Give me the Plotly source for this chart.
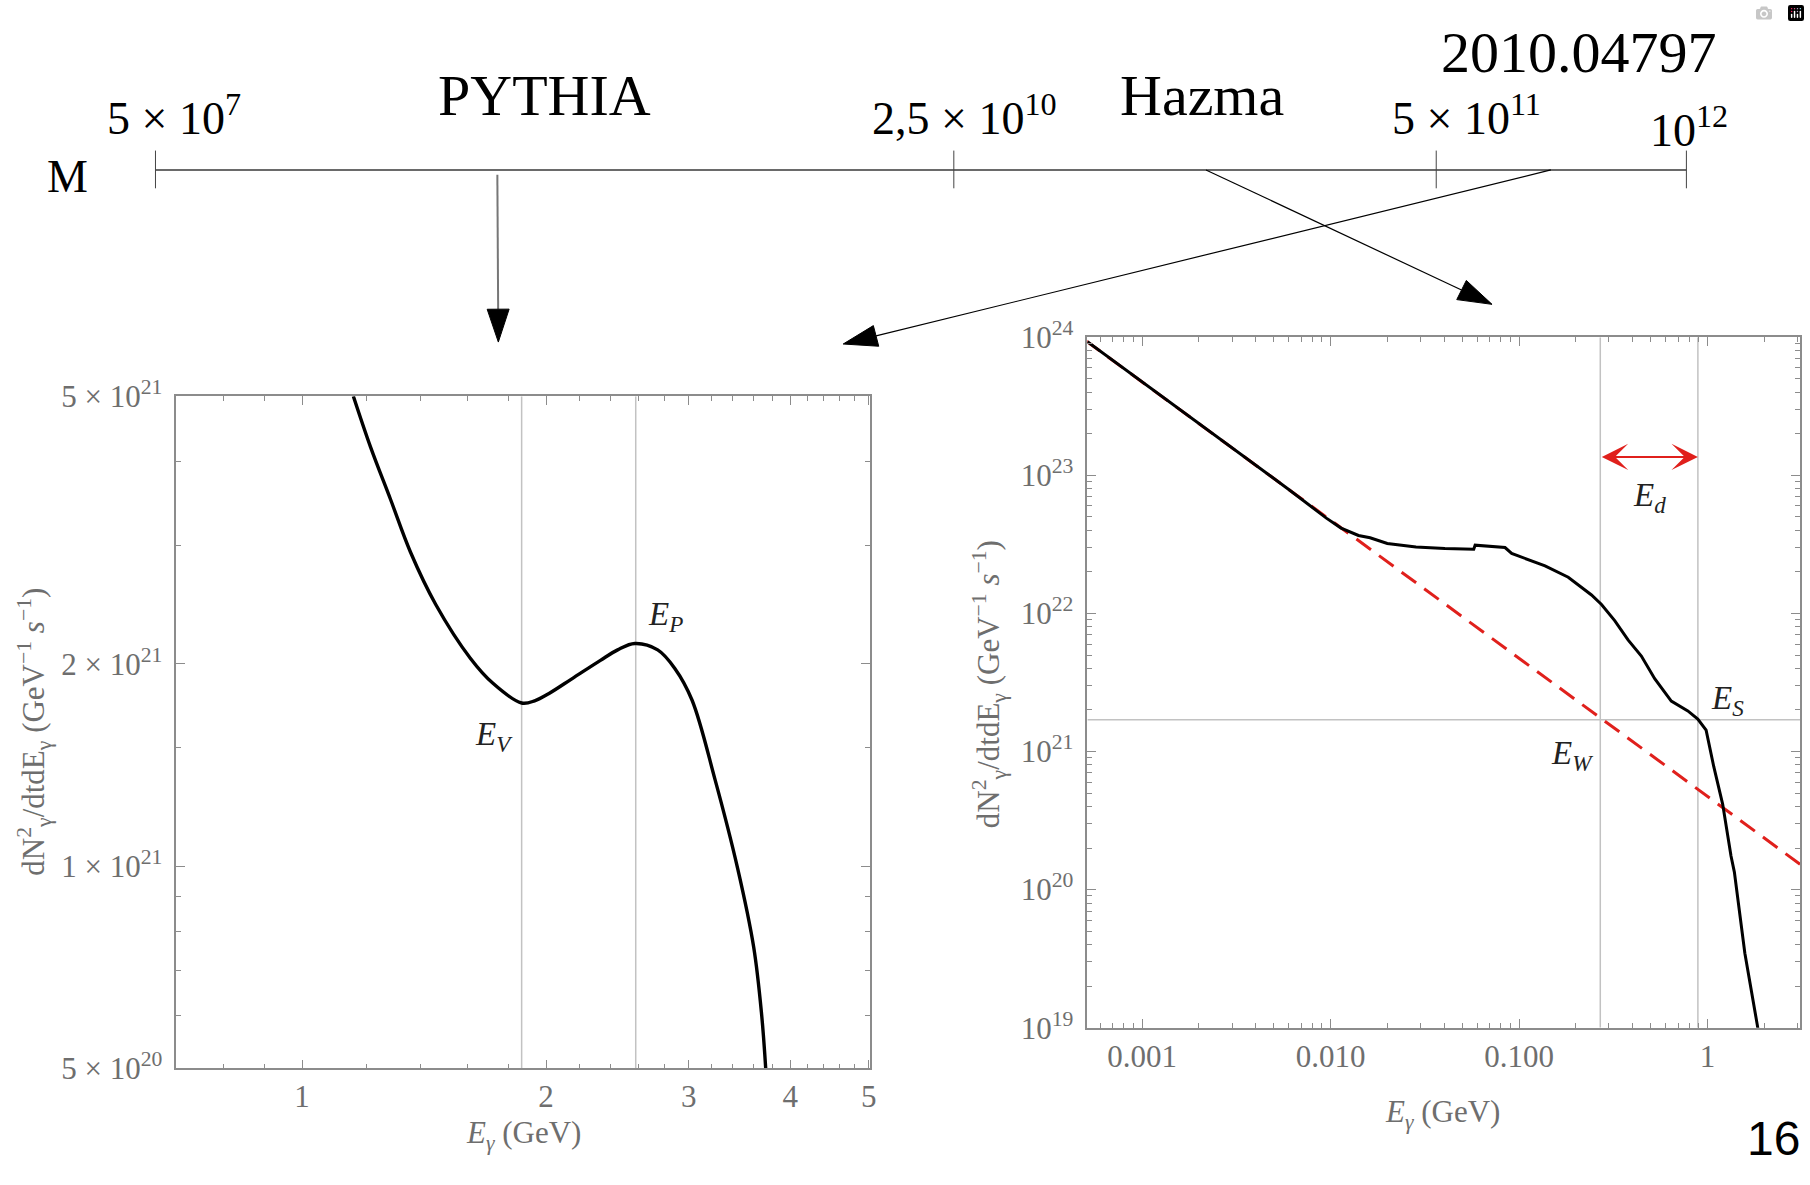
import numpy as np
import plotly.graph_objects as go

W, H = 1810, 1185
SERIF = "Liberation Serif"
FRAME = "#8c8c8c"
TICKC = "#6e6e6e"
GUIDE = "#c2c2c2"
RED = "#e0201c"

# ---------------- data ----------------
mass_labels = ["5 × 10<sup>7</sup>", "2,5 × 10<sup>10</sup>", "5 × 10<sup>11</sup>", "10<sup>12</sup>"]
generator_names = ["PYTHIA", "Hazma"]
paper_ref = "2010.04797"

# left panel (PYTHIA)
pythia_E = [1.157, 1.215, 1.286, 1.361, 1.462, 1.612, 1.720, 1.866, 1.936, 2.017, 2.152, 2.334,
            2.451, 2.573, 2.746, 2.883, 3.027, 3.23, 3.446, 3.607, 3.690, 3.732]
pythia_flux = [5.0e21, 4.20e21, 3.51e21, 2.93e21, 2.45e21, 2.04e21, 1.87e21, 1.748e21, 1.761e21,
               1.806e21, 1.899e21, 2.023e21, 2.097e21, 2.143e21, 2.097e21, 1.968e21, 1.766e21,
               1.348e21, 9.92e20, 7.57e20, 5.99e20, 5.0e20]
pythia_E_V = 1.866
pythia_E_P = 2.58

# right panel (Hazma)
hazma_E = [5.12e-4, 1.0e-3, 3.0e-3, 6.0e-3, 9.5e-3, 0.01137, 0.01406, 0.0162, 0.0200, 0.0284, 0.0404,
           0.0575, 0.0585, 0.0843, 0.0914, 0.1375, 0.1825, 0.2425, 0.274, 0.322, 0.379, 0.446,
           0.525, 0.643, 0.787, 0.889, 0.984, 1.08, 1.205, 1.334, 1.39, 1.58, 1.85, 1.9]
hazma_flux = [9.27e23, 4.74e23, 1.58e23, 7.9e22, 4.9e22, 4.15e22, 3.67e22, 3.53e22, 3.21e22, 3.03e22, 2.95e22,
              2.92e22, 3.12e22, 3.0e22, 2.72e22, 2.21e22, 1.83e22, 1.36e22, 1.16e22, 8.87e21, 6.43e21,
              4.91e21, 3.37e21, 2.32e21, 1.97e21, 1.72e21, 1.43e21, 7.8e20, 4.15e20, 1.75e20, 1.34e20,
              3.46e19, 1.0e19, 8.0e18]
hazma_powerlaw_E = [5.0e-4, 3.2]
hazma_powerlaw_flux = [9.48e23, 1.48e20]
hazma_E_W = 0.27
hazma_E_S = 0.89
hazma_flux_S = 1.7e21
hazma_Ed_flux = 1.36e23

# ticks
left_xtickvals = [1, 2, 3, 4, 5]
left_xticktext = ["1", "2", "3", "4", "5"]
left_xminor = [0.8, 0.9, 1.2, 1.4, 1.6, 1.8, 2.2, 2.4, 2.6, 2.8, 3.2, 3.4, 3.6, 3.8, 4.2, 4.4, 4.6, 4.8]
left_ytickvals = [5e20, 1e21, 2e21, 5e21]
left_yticktext = ["5 × 10<sup>20</sup>", "1 × 10<sup>21</sup>", "2 × 10<sup>21</sup>", "5 × 10<sup>21</sup>"]
left_yminor = [6e20, 7e20, 8e20, 9e20, 1.5e21, 3e21, 4e21]
right_xtickvals = [0.001, 0.01, 0.1, 1]
right_xticktext = ["0.001", "0.010", "0.100", "1"]
right_ytickvals = [1e19, 1e20, 1e21, 1e22, 1e23, 1e24]
right_yticktext = ["10<sup>19</sup>", "10<sup>20</sup>", "10<sup>21</sup>", "10<sup>22</sup>",
                   "10<sup>23</sup>", "10<sup>24</sup>"]
right_xminor = [m * 10.0 ** k for k in range(-4, 1) for m in range(2, 10)]
right_yminor = [m * 10.0 ** k for k in range(19, 24) for m in range(2, 10)]

left_xrange = [0.70, 5.02]
left_yrange = [5e20, 5e21]
right_xrange = [5.12e-4, 3.1]
right_yrange = [1e19, 1e24]


# ---------------- helpers (layout decoration in pixels -> paper) ----------------
def px(x):
    return x / W


def py(y):
    return 1 - y / H


fig = go.Figure()

# left panel traces
fig.add_trace(go.Scatter(x=[pythia_E_V, pythia_E_V], y=left_yrange, mode="lines",
                         line=dict(color=GUIDE, width=1.5), xaxis="x", yaxis="y"))
fig.add_trace(go.Scatter(x=[pythia_E_P, pythia_E_P], y=left_yrange, mode="lines",
                         line=dict(color=GUIDE, width=1.5), xaxis="x", yaxis="y"))
fig.add_trace(go.Scatter(x=pythia_E, y=pythia_flux, mode="lines",
                         line=dict(color="black", width=3.4, shape="spline", smoothing=1.0),
                         xaxis="x", yaxis="y"))

# right panel traces
fig.add_trace(go.Scatter(x=[hazma_E_W, hazma_E_W], y=right_yrange, mode="lines",
                         line=dict(color=GUIDE, width=1.5), xaxis="x2", yaxis="y2"))
fig.add_trace(go.Scatter(x=[hazma_E_S, hazma_E_S], y=right_yrange, mode="lines",
                         line=dict(color=GUIDE, width=1.5), xaxis="x2", yaxis="y2"))
fig.add_trace(go.Scatter(x=right_xrange, y=[hazma_flux_S, hazma_flux_S], mode="lines",
                         line=dict(color=GUIDE, width=1.5), xaxis="x2", yaxis="y2"))
fig.add_trace(go.Scatter(x=hazma_powerlaw_E, y=hazma_powerlaw_flux, mode="lines",
                         line=dict(color=RED, width=3, dash="18px,10px"), xaxis="x2", yaxis="y2"))
fig.add_trace(go.Scatter(x=hazma_E, y=hazma_flux, mode="lines",
                         line=dict(color="black", width=3), xaxis="x2", yaxis="y2"))


def axis(domain, rng, tickvals, ticktext, minor_vals, anchor, standoff, size=31):
    return dict(
        type="log", domain=domain, range=[np.log10(rng[0]), np.log10(rng[1])], anchor=anchor,
        showgrid=False, zeroline=False, showline=True, linecolor=FRAME, linewidth=1.5,
        mirror="allticks", ticks="inside", ticklen=9, tickwidth=1.2, tickcolor=FRAME,
        tickmode="array", tickvals=tickvals, ticktext=ticktext,
        tickfont=dict(family=SERIF, size=size, color=TICKC), ticklabelstandoff=standoff,
        minor=dict(tickmode="array", tickvals=minor_vals, ticks="inside", ticklen=5,
                   tickwidth=1, tickcolor=FRAME, showgrid=False),
        fixedrange=True,
    )


L_x = [px(177), px(873)]
L_y = [py(1083), py(388)]
R_x = [px(1091), px(1806)]
R_y = [py(1041), py(327)]

fig.update_layout(
    width=W, height=H, margin=dict(l=0, r=0, t=0, b=0), autosize=False,
    paper_bgcolor="white", plot_bgcolor="white", showlegend=False,
    xaxis=axis(L_x, left_xrange, left_xtickvals, left_xticktext, left_xminor, "y", 0),
    yaxis=axis(L_y, left_yrange, left_ytickvals, left_yticktext, left_yminor, "x", 6),
    xaxis2=axis(R_x, right_xrange, right_xtickvals, right_xticktext, right_xminor, "y2", 0),
    yaxis2=axis(R_y, right_yrange, right_ytickvals, right_yticktext, right_yminor, "x2", 6),
)

annotations = []
shapes = []

# ---------- mass scale at the top ----------
scale_y = 154
scale_ticks_px = [156, 957, 1441, 1692]
shapes.append(dict(type="line", xref="paper", yref="paper", x0=px(scale_ticks_px[0]), x1=px(scale_ticks_px[-1]),
                   y0=py(scale_y), y1=py(scale_y), line=dict(color="#6a6a6a", width=2)))
for tx in scale_ticks_px:
    shapes.append(dict(type="line", xref="paper", yref="paper", x0=px(tx), x1=px(tx),
                       y0=py(134), y1=py(173), line=dict(color="#444444", width=1)))

label_pos = [(175, 97), (968, 97), (1471, 97), (1695, 110)]
for (lx, ly), txt in zip(label_pos, mass_labels):
    annotations.append(dict(xref="paper", yref="paper", x=px(lx), y=py(ly), text=txt, showarrow=False,
                            xanchor="center", yanchor="middle",
                            font=dict(family=SERIF, size=46, color="black")))

for (lx, ly), txt in zip([(546, 77), (1206, 77)], generator_names):
    annotations.append(dict(xref="paper", yref="paper", x=px(lx), y=py(ly), text=txt, showarrow=False,
                            xanchor="center", yanchor="middle",
                            font=dict(family=SERIF, size=58, color="black")))
annotations.append(dict(xref="paper", yref="paper", x=px(1584), y=py(33), text=paper_ref, showarrow=False,
                        xanchor="center", yanchor="middle", font=dict(family=SERIF, size=58, color="black")))
annotations.append(dict(xref="paper", yref="paper", x=px(68), y=py(161), text="M", showarrow=False,
                        xanchor="center", yanchor="middle", font=dict(family=SERIF, size=46, color="black")))

# arrows from the scale to the panels
arrows = [((499, 159), (500, 332), "#777777", 2.0),
          ((1556, 154), (846, 334), "black", 1.2),
          ((1210, 154), (1497, 293), "black", 1.2)]
HEAD_L, HEAD_W = 34, 11
for (x0, y0), (x1, y1), col, lw in arrows:
    d = np.array([x1 - x0, y1 - y0], dtype=float)
    u = d / np.linalg.norm(d)
    n = np.array([-u[1], u[0]])
    base = np.array([x1, y1]) - HEAD_L * u
    shapes.append(dict(type="line", xref="paper", yref="paper", x0=px(x0), y0=py(y0),
                       x1=px(base[0]), y1=py(base[1]), line=dict(color=col, width=lw)))
    p1 = base + HEAD_W * n
    p2 = base - HEAD_W * n
    path = f"M {px(x1)},{py(y1)} L {px(p1[0])},{py(p1[1])} L {px(p2[0])},{py(p2[1])} Z"
    shapes.append(dict(type="path", xref="paper", yref="paper", path=path,
                       fillcolor="black", line=dict(color="black", width=1)))

# ---------- axis titles ----------
ytitle = "dN<sup>2</sup><sub>γ</sub>/dtdE<sub>γ</sub> (GeV<sup>−1</sup> <i>s</i><sup>−1</sup>)"
xtitle = "<i>E<sub>γ</sub></i> (GeV)"
for (tx, ty) in [(34, 735), (993, 686)]:
    annotations.append(dict(xref="paper", yref="paper", x=px(tx), y=py(ty), text=ytitle, showarrow=False,
                            textangle=-90, xanchor="center", yanchor="middle",
                            font=dict(family=SERIF, size=31, color=TICKC)))
for (tx, ty) in [(525, 1152), (1447, 1130)]:
    annotations.append(dict(xref="paper", yref="paper", x=px(tx), y=py(ty), text=xtitle, showarrow=False,
                            xanchor="center", yanchor="middle",
                            font=dict(family=SERIF, size=31, color=TICKC)))

# ---------- point labels ----------
lab_font = dict(family=SERIF, size=33, color="#222222")
point_labels = [
    ("x", "y", 1.726, 1.56e21, "<i>E<sub>V</sub></i>"),
    ("x", "y", 2.81, 2.35e21, "<i>E<sub>P</sub></i>"),
    ("x2", "y2", 0.19, 9.3e20, "<i>E<sub>W</sub></i>"),
    ("x2", "y2", 1.276, 2.33e21, "<i>E<sub>S</sub></i>"),
    ("x2", "y2", 0.493, 6.9e22, "<i>E<sub>d</sub></i>"),
]
for xr, yr, lx, ly, txt in point_labels:
    annotations.append(dict(xref=xr, yref=yr, x=np.log10(lx), y=np.log10(ly), text=txt, showarrow=False,
                            xanchor="center", yanchor="middle", font=lab_font))

# red double arrow E_W <-> E_S
annotations.append(dict(xref="x2", yref="y2", axref="x2", ayref="y2",
                        x=np.log10(hazma_E_S), y=np.log10(hazma_Ed_flux),
                        ax=np.log10(hazma_E_W), ay=np.log10(hazma_Ed_flux),
                        text="", showarrow=True, arrowside="end+start",
                        arrowhead=3, startarrowhead=3, arrowsize=2.2, startarrowsize=2.2,
                        arrowwidth=2, arrowcolor=RED, standoff=0, startstandoff=0))

# page number
annotations.append(dict(xref="paper", yref="paper", x=px(1779), y=0, text="16", showarrow=False,
                        xanchor="center", yanchor="bottom",
                        font=dict(family="Liberation Sans", size=48, color="black")))

fig.update_layout(annotations=annotations, shapes=shapes)

fig.write_html("out.html", post_script="document.body.style.margin='0';document.body.style.overflow='hidden';")
